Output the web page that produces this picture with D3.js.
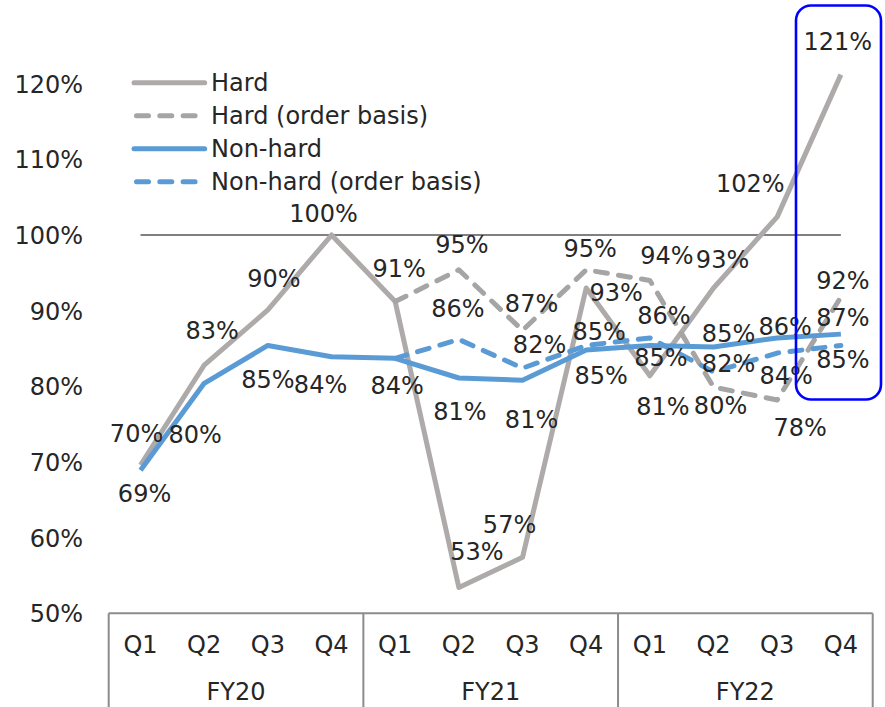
<!DOCTYPE html>
<html>
<head>
<meta charset="utf-8">
<script src="https://cdn.jsdelivr.net/npm/d3@7"></script>
<style>
  html, body { margin: 0; padding: 0; background: #ffffff; }
  svg { display: block; }
  text { font-family: "DejaVu Sans", Verdana, sans-serif; fill: #262626; }
</style>
</head>
<body>
<svg id="chart" width="885" height="707"></svg>
<script>
// Quarter / fiscal-year categories
const quarters = ["Q1", "Q2", "Q3", "Q4", "Q1", "Q2", "Q3", "Q4", "Q1", "Q2", "Q3", "Q4"];
const fiscalYears = ["FY20", "FY21", "FY22"];
const yTicks = [0.5, 0.6, 0.7, 0.8, 0.9, 1.0, 1.1, 1.2];

// Ratios per quarter (null where the series has no value)
const hard = [0.696, 0.828, 0.901, 1.0, 0.912, 0.534, 0.574, 0.93, 0.814, 0.93, 1.024, 1.212];
const hardOrder = [null, null, null, null, 0.912, 0.954, 0.874, 0.954, 0.94, 0.799, 0.782, 0.918];
const nonHard = [0.689, 0.804, 0.854, 0.839, 0.837, 0.811, 0.808, 0.848, 0.854, 0.852, 0.864, 0.869];
const nonHardOrder = [null, null, null, null, 0.837, 0.862, 0.824, 0.854, 0.864, 0.819, 0.844, 0.854];

// Which points carry a value label (order-basis series share their first point)
const hardShown = [1, 1, 1, 1, 1, 1, 1, 1, 1, 1, 1, 1];
const hardOrderShown = [0, 0, 0, 0, 0, 1, 1, 1, 1, 1, 1, 1];
const nonHardShown = [1, 1, 1, 1, 1, 1, 1, 1, 1, 1, 1, 1];
const nonHardOrderShown = [0, 0, 0, 0, 0, 1, 1, 1, 1, 1, 1, 1];

// Label offsets from their point (px), kept apart from the values
const hardLabelOffset = [[-4, -32], [8, -35], [6, -32], [-8, -22], [4, -33], [18, -36], [-13, -33], [30, 4], [13, 31], [9, -29], [-27, -33], [-3, -33]];
const hardOrderLabelOffset = [null, null, null, null, null, [3, -25], [9, -27], [4, -21], [17, -25], [7, 18], [23, 27], [2, -17]];
const nonHardLabelOffset = [[4, 23], [-9, 51], [0, 34], [-11, 28], [2, 27], [1, 33], [9, 39], [15, 25], [11, 12], [15, -14], [8, -12], [2, -17]];
const nonHardOrderLabelOffset = [null, null, null, null, null, [-1, -31], [17, -24], [13, -14], [14, -23], [15, -9], [9, 22], [2, 14]];

const svg = d3.select("#chart");
const fontSize = 24;

const plotLeft = 108.7, plotRight = 872.7;
const x = d3.scaleBand().domain(d3.range(quarters.length)).range([plotLeft, plotRight]).paddingInner(0).paddingOuter(0);
const xc = i => x(i) + x.bandwidth() / 2;
const y = d3.scaleLinear().domain([0.5, 1.2]).range([613.3, 83.7]);
const pct = d3.format(".0%");

// Y axis labels (no line, no ticks)
const yAxis = d3.axisLeft(y).tickValues(yTicks).tickFormat(pct).tickSize(0).tickPadding(0);
const yg = svg.append("g").attr("transform", "translate(83,0)").call(yAxis);
yg.select(".domain").remove();
yg.selectAll("text")
  .attr("font-family", "DejaVu Sans, Verdana, sans-serif")
  .attr("font-size", fontSize)
  .attr("fill", "#262626")
  .attr("dy", "0.36em");

// Two-level category axis
const axisColor = "#8c8c8c";
const axisY = 613.3;
svg.append("line").attr("x1", plotLeft).attr("x2", plotRight).attr("y1", axisY).attr("y2", axisY)
  .attr("stroke", axisColor).attr("stroke-width", 2);
const groupEdges = [0, 4, 8, 12].map(i => i < quarters.length ? x(i) : plotRight);
svg.selectAll(".sep").data(groupEdges).join("line")
  .attr("x1", d => d).attr("x2", d => d).attr("y1", axisY).attr("y2", 707)
  .attr("stroke", axisColor).attr("stroke-width", 2);
svg.selectAll(".qlab").data(quarters).join("text")
  .attr("x", (d, i) => xc(i)).attr("y", 653)
  .attr("text-anchor", "middle").attr("font-size", fontSize).text(d => d);
svg.selectAll(".fylab").data(fiscalYears).join("text")
  .attr("x", (d, i) => (groupEdges[i] + groupEdges[i + 1]) / 2).attr("y", 700)
  .attr("text-anchor", "middle").attr("font-size", fontSize).text(d => d);

// 100% reference line
svg.append("line").attr("x1", xc(0)).attr("x2", xc(quarters.length - 1))
  .attr("y1", y(1.0)).attr("y2", y(1.0))
  .attr("stroke", "#808080").attr("stroke-width", 2.2);

const series = [
  { name: "Hard", values: hard, shown: hardShown, offsets: hardLabelOffset, color: "#aeaaaa", dash: null },
  { name: "Hard (order basis)", values: hardOrder, shown: hardOrderShown, offsets: hardOrderLabelOffset, color: "#a5a5a5", dash: "12 11.3" },
  { name: "Non-hard", values: nonHard, shown: nonHardShown, offsets: nonHardLabelOffset, color: "#5b9bd5", dash: null },
  { name: "Non-hard (order basis)", values: nonHardOrder, shown: nonHardOrderShown, offsets: nonHardOrderLabelOffset, color: "#5b9bd5", dash: "12 11.3" }
];

const line = d3.line()
  .defined(d => d.v !== null)
  .x(d => xc(d.i))
  .y(d => y(d.v));

series.forEach(s => {
  const pts = s.values.map((v, i) => ({ v, i }));
  svg.append("path").datum(pts)
    .attr("d", line)
    .attr("fill", "none")
    .attr("stroke", s.color)
    .attr("stroke-width", 5)
    .attr("stroke-linejoin", "round")
    .attr("stroke-linecap", s.dash ? "round" : "butt")
    .attr("stroke-dasharray", s.dash);
});

// Value labels
series.forEach(s => {
  const pts = s.values.map((v, i) => ({ v, i, off: s.offsets[i] }))
    .filter(d => d.v !== null && s.shown[d.i]);
  svg.selectAll(null).data(pts).join("text")
    .attr("x", d => xc(d.i) + d.off[0])
    .attr("y", d => y(d.v) + d.off[1])
    .attr("dy", "0.36em")
    .attr("text-anchor", "middle")
    .attr("font-size", fontSize)
    .text(d => pct(d.v));
});

// Legend
const legend = svg.append("g");
series.forEach((s, k) => {
  const ly = 82.7 + k * 33;
  legend.append("line")
    .attr("x1", s.dash ? 136.5 : 134).attr("x2", s.dash ? 198 : 204.7)
    .attr("y1", ly).attr("y2", ly)
    .attr("stroke", s.color).attr("stroke-width", 5)
    .attr("stroke-linecap", "round")
    .attr("stroke-dasharray", s.dash);
  legend.append("text")
    .attr("x", 211).attr("y", ly).attr("dy", "0.36em")
    .attr("font-size", fontSize).text(s.name);
});

// Highlight box around the latest quarter
svg.append("rect")
  .attr("x", 796).attr("y", 5.5).attr("width", 85).attr("height", 394)
  .attr("rx", 15).attr("ry", 15)
  .attr("fill", "none").attr("stroke", "#0000ff").attr("stroke-width", 2.6);
</script>
</body>
</html>
